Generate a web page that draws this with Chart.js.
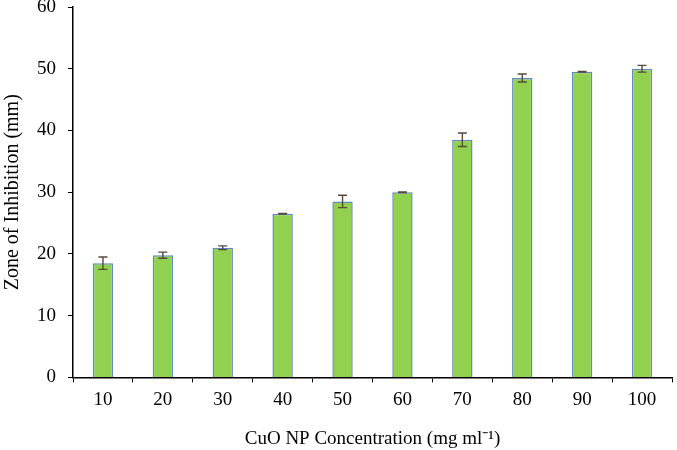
<!DOCTYPE html>
<html>
<head>
<meta charset="utf-8">
<script src="https://cdn.jsdelivr.net/npm/chart.js@4"></script>
<style>
  html, body { margin: 0; padding: 0; background: #fff; }
</style>
</head>
<body>
<canvas id="myChart" width="677" height="450"></canvas>
<script>
const concentrations = ["10", "20", "30", "40", "50", "60", "70", "80", "90", "100"];
const inhibition = [18.5, 19.8, 21.0, 26.5, 28.5, 30.0, 38.5, 48.5, 49.5, 50.0];
const errors = [1.0, 0.5, 0.3, 0.05, 1.0, 0.05, 1.1, 0.65, 0.05, 0.55];

// draws the error bars from the y scale
const errorBars = {
  id: "errorBars",
  afterDatasetsDraw(chart) {
    const ctx = chart.ctx;
    const yScale = chart.scales.y;
    const meta = chart.getDatasetMeta(0);
    ctx.save();
    ctx.strokeStyle = "#574a3c";
    ctx.lineWidth = 1.4;
    meta.data.forEach((bar, i) => {
      const v = inhibition[i], e = errors[i];
      const top = yScale.getPixelForValue(v + e);
      const bot = yScale.getPixelForValue(v - e);
      const x = bar.x;
      ctx.beginPath();
      ctx.moveTo(x, top); ctx.lineTo(x, bot);
      ctx.moveTo(x - 4.5, top); ctx.lineTo(x + 4.5, top);
      ctx.moveTo(x - 4.5, bot); ctx.lineTo(x + 4.5, bot);
      ctx.stroke();
    });
    ctx.restore();
  }
};

const ctx = document.getElementById("myChart").getContext("2d");
const myChart = new Chart(ctx, {
  type: "bar",
  data: {
    labels: concentrations,
    datasets: [
      {
        data: inhibition,
        backgroundColor: "#92d050",
        borderColor: "#6489bb",
        borderWidth: 1.5,
        barPercentage: 0.34,
        categoryPercentage: 1.0,
      },
    ],
  },
  options: {
    responsive: false,
    animation: false,
    layout: { padding: { top: 7, right: 5, left: 0, bottom: 0 } },
    plugins: {
      legend: { display: false },
      tooltip: { enabled: false },
    },
    scales: {
      x: {
        grid: { drawOnChartArea: false, offset: true, tickLength: 5, color: "#000" },
        border: { color: "#000", width: 1.5 },
        ticks: { color: "#000", font: { family: "Liberation Serif", size: 19 }, padding: 6 },
        title: {
          display: true,
          text: "CuO NP Concentration (mg ml\u207B\u00B9)",
          color: "#000",
          font: { family: "Liberation Serif", size: 19 },
          padding: { top: 10, bottom: 0 },
        },
      },
      y: {
        min: 0,
        max: 60,
        afterFit(scale) {
          scale.paddingTop = 0;
          scale.paddingBottom = 0;
        },
        ticks: { stepSize: 10, color: "#000", font: { family: "Liberation Serif", size: 19 }, padding: 12 },
        grid: { drawOnChartArea: false, tickLength: 5, color: "#000" },
        border: { color: "#000", width: 1.5 },
        title: {
          display: true,
          text: "Zone of Inhibition (mm)",
          color: "#000",
          font: { family: "Liberation Serif", size: 20 },
          padding: { top: 1, bottom: 0 },
        },
      },
    },
  },
  plugins: [errorBars],
});
</script>
</body>
</html>
